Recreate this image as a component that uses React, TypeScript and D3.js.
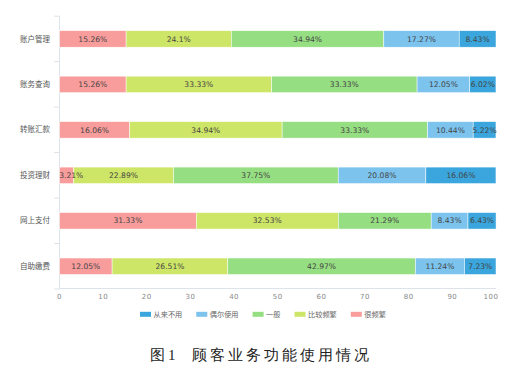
import React from "react";
import * as d3 from "d3";

const categories = ["账户管理", "账务查询", "转账汇款", "投资理财", "网上支付", "自助缴费"];
const seriesNames = ["很频繁", "比较频繁", "一般", "偶尔使用", "从来不用"];
const seriesColors = ["#F99D9C", "#CEE667", "#96DE82", "#7CC3EE", "#3AA6DD"];
const veryOften = [15.26, 15.26, 16.06, 3.21, 31.33, 12.05];
const often = [24.1, 33.33, 34.94, 22.89, 32.53, 26.51];
const normal = [34.94, 33.33, 33.33, 37.75, 21.29, 42.97];
const rarely = [17.27, 12.05, 10.44, 20.08, 8.43, 11.24];
const never = [8.43, 6.02, 5.22, 16.06, 6.43, 7.23];
const xTicks = [0, 10, 20, 30, 40, 50, 60, 70, 80, 90, 100];
const legendOrder = ["从来不用", "偶尔使用", "一般", "比较频繁", "很频繁"];

const W = 523;
const H = 375;
const FONT = "'Noto Sans CJK SC', 'Noto Sans', sans-serif";
const NUM_FONT = "'DejaVu Sans', Verdana, sans-serif";

const App = () => {
  const x = d3.scaleLinear().domain([0, 100]).range([59.5, 496]);
  const y = d3.scaleBand().domain(categories).range([16.2, 289]);
  const barH = 16.5;
  const valFont = 7.6;

  const rows = categories.map((c, i) => ({
    cat: c,
    veryOften: veryOften[i],
    often: often[i],
    normal: normal[i],
    rarely: rarely[i],
    never: never[i],
  }));
  const keys = ["veryOften", "often", "normal", "rarely", "never"];
  const stacked = d3.stack().keys(keys)(rows as any);

  // flatten segments so labels can be drawn above every bar
  const segs = stacked.flatMap((s, si) =>
    s.map((d: any, i) => {
      const cy = y(categories[i])! + y.bandwidth() / 2;
      const x0 = x(d[0]);
      const x1 = x(d[1]);
      const label = `${+(d[1] - d[0]).toFixed(2)}%`;
      const halfW = (label.length * valFont * 0.62) / 2;
      return {
        key: `${s.key}-${i}`,
        color: seriesColors[si],
        cy,
        x0,
        x1,
        label,
        lx: Math.max((x0 + x1) / 2, x.range()[0] + halfW),
      };
    })
  );

  // legend positions
  const legFont = 7.2;
  let lx = 140;
  const legendItems = legendOrder.map((name) => {
    const item = { name, x: lx, color: seriesColors[seriesNames.indexOf(name)] };
    lx += 11 + 3 + name.length * legFont + 13.5;
    return item;
  });

  const axisY = 288.5;

  return (
    <svg
      width={W}
      height={H}
      style={{ position: "absolute", left: 0, top: 0, background: "#fff" }}
      fontFamily={FONT}
    >
      {/* category axis */}
      <line x1={59.5} x2={59.5} y1={16.2} y2={axisY} stroke="#DDE3EA" strokeWidth={1} />
      {y.domain().map((c) => (
        <line key={"t" + c} x1={54} x2={59.5} y1={y(c)!} y2={y(c)!} stroke="#DDE3EA" />
      ))}
      <line x1={54} x2={59.5} y1={289} y2={289} stroke="#DDE3EA" />
      {categories.map((c) => (
        <text
          key={"l" + c}
          x={50}
          y={y(c)! + y.bandwidth() / 2}
          dy="0.35em"
          textAnchor="end"
          fontSize={7.5}
          fill="#555"
        >
          {c}
        </text>
      ))}

      {/* value axis */}
      <line x1={59.5} x2={496} y1={axisY} y2={axisY} stroke="#DDE3EA" />
      {xTicks.map((t) => (
        <text
          key={"x" + t}
          x={t === 100 ? x(t) - 5 : x(t)}
          y={297}
          dy="0.35em"
          textAnchor="middle"
          fontSize={7}
          fill="#888"
          fontFamily={NUM_FONT}
          letterSpacing={0.5}
        >
          {t}
        </text>
      ))}

      {/* bars */}
      {segs.map((s) => (
        <rect
          key={"r" + s.key}
          x={s.x0}
          y={s.cy - barH / 2}
          width={s.x1 - s.x0}
          height={barH}
          fill={s.color}
          stroke="#fff"
          strokeWidth={0.5}
        />
      ))}
      {segs.map((s) => (
        <text
          key={"v" + s.key}
          x={s.lx}
          y={s.cy}
          dy="0.35em"
          textAnchor="middle"
          fontSize={valFont}
          fontFamily={NUM_FONT}
          fill="#444"
        >
          {s.label}
        </text>
      ))}

      {/* legend */}
      {legendItems.map((it) => (
        <g key={it.name}>
          <rect x={it.x} y={311.8} width={11} height={5} fill={it.color} />
          <text x={it.x + 13.5} y={314.3} dy="0.35em" fontSize={legFont} fill="#666">
            {it.name}
          </text>
        </g>
      ))}

      {/* caption */}
      <text
        x={150}
        y={355}
        dy="0.35em"
        fontSize={15}
        fill="#222"
        fontFamily="serif"
        fontWeight={300}
        letterSpacing={3}
      >
        {"图1\u00a0\u00a0顾客业务功能使用情况"}
      </text>
    </svg>
  );
};

export default App;
